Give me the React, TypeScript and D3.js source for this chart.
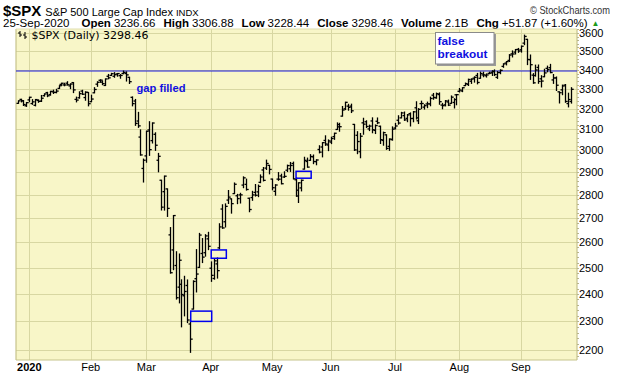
import React from "react";
import * as d3 from "d3";

type Row = [number, number, number, number, number]; // day, open, high, low, close

const dec2019: Row[] = [
  [26, 3227.2, 3240.08, 3227.2, 3239.91],
  [27, 3247.23, 3247.93, 3234.37, 3240.02],
  [30, 3240.09, 3240.92, 3216.57, 3221.29],
  [31, 3215.18, 3231.72, 3212.03, 3230.78],
];
const jan2020: Row[] = [
  [2, 3244.67, 3258.14, 3235.53, 3257.85],
  [3, 3226.36, 3246.15, 3222.34, 3234.85],
  [6, 3217.55, 3246.84, 3214.64, 3246.28],
  [7, 3241.86, 3244.91, 3232.43, 3237.18],
  [8, 3238.59, 3267.07, 3236.67, 3253.05],
  [9, 3266.03, 3275.58, 3263.67, 3274.7],
  [10, 3281.81, 3282.99, 3260.86, 3265.35],
  [13, 3271.13, 3288.13, 3268.43, 3288.13],
  [14, 3285.35, 3294.25, 3277.19, 3283.15],
  [15, 3282.27, 3298.66, 3280.69, 3289.29],
  [16, 3302.97, 3317.11, 3302.82, 3316.81],
  [17, 3323.66, 3329.88, 3318.86, 3329.62],
  [21, 3321.03, 3329.79, 3316.61, 3320.79],
  [22, 3330.02, 3337.77, 3320.04, 3321.75],
  [23, 3315.77, 3326.88, 3301.87, 3325.54],
  [24, 3333.1, 3333.18, 3281.53, 3295.47],
  [27, 3247.16, 3258.85, 3234.5, 3243.63],
  [28, 3255.35, 3285.78, 3253.22, 3276.24],
  [29, 3289.46, 3293.47, 3271.89, 3273.4],
  [30, 3256.45, 3285.91, 3242.8, 3283.66],
  [31, 3282.33, 3282.33, 3214.68, 3225.52],
];
const feb2020: Row[] = [
  [3, 3235.66, 3268.44, 3235.66, 3248.92],
  [4, 3280.61, 3306.92, 3280.61, 3297.59],
  [5, 3324.91, 3337.58, 3313.75, 3334.69],
  [6, 3344.92, 3347.96, 3334.39, 3345.78],
  [7, 3335.54, 3341.42, 3322.12, 3327.71],
  [10, 3318.28, 3352.26, 3317.77, 3352.09],
  [11, 3365.87, 3375.63, 3352.72, 3357.75],
  [12, 3370.5, 3381.47, 3369.72, 3379.45],
  [13, 3365.9, 3385.09, 3360.52, 3373.94],
  [14, 3378.08, 3380.69, 3366.15, 3380.16],
  [18, 3369.04, 3375.01, 3355.61, 3370.29],
  [19, 3380.39, 3393.52, 3378.83, 3386.15],
  [20, 3380.45, 3389.15, 3341.02, 3373.23],
  [21, 3360.5, 3360.76, 3328.45, 3337.75],
  [24, 3257.61, 3259.81, 3214.65, 3225.89],
  [25, 3238.94, 3246.99, 3118.77, 3128.21],
  [26, 3139.9, 3182.51, 3108.99, 3116.39],
  [27, 3062.54, 3097.07, 2977.39, 2978.76],
  [28, 2916.9, 2959.72, 2855.84, 2954.22],
];
const mar2020: Row[] = [
  [2, 2974.28, 3090.96, 2945.19, 3090.23],
  [3, 3096.46, 3136.72, 2976.63, 3003.37],
  [4, 3045.75, 3130.97, 3034.38, 3130.12],
  [5, 3075.7, 3083.04, 2999.83, 3023.94],
  [6, 2954.2, 2985.93, 2901.54, 2972.37],
  [9, 2863.89, 2863.89, 2734.43, 2746.56],
  [10, 2813.48, 2882.59, 2734.0, 2882.23],
  [11, 2825.6, 2825.6, 2707.22, 2741.38],
  [12, 2630.86, 2660.95, 2478.86, 2480.64],
  [13, 2569.99, 2711.33, 2492.37, 2711.02],
  [16, 2508.59, 2562.98, 2380.94, 2386.13],
  [17, 2425.66, 2553.93, 2367.04, 2529.19],
  [18, 2436.5, 2453.57, 2280.52, 2398.1],
  [19, 2393.48, 2466.97, 2319.78, 2409.39],
  [20, 2431.94, 2453.01, 2295.56, 2304.92],
  [23, 2290.71, 2300.73, 2191.86, 2237.4],
  [24, 2344.44, 2449.71, 2344.44, 2447.33],
  [25, 2457.77, 2571.42, 2407.53, 2475.56],
  [26, 2501.29, 2637.01, 2500.72, 2630.07],
  [27, 2555.87, 2615.91, 2520.02, 2541.47],
  [30, 2558.98, 2631.8, 2545.28, 2626.65],
  [31, 2614.69, 2641.39, 2571.15, 2584.59],
];
const apr2020: Row[] = [
  [1, 2498.08, 2522.75, 2447.49, 2470.5],
  [2, 2458.54, 2533.22, 2455.79, 2526.9],
  [3, 2514.92, 2538.18, 2459.96, 2488.65],
  [6, 2578.28, 2676.85, 2574.57, 2663.68],
  [7, 2738.65, 2756.89, 2657.67, 2659.41],
  [8, 2685.0, 2760.75, 2663.3, 2749.98],
  [9, 2776.99, 2818.57, 2762.36, 2789.82],
  [13, 2782.46, 2782.46, 2721.17, 2761.63],
  [14, 2805.1, 2851.85, 2805.1, 2846.06],
  [15, 2795.64, 2801.88, 2761.54, 2783.36],
  [16, 2799.34, 2806.51, 2764.32, 2799.55],
  [17, 2842.43, 2879.22, 2830.88, 2874.56],
  [20, 2845.62, 2868.98, 2820.43, 2823.16],
  [21, 2784.81, 2785.54, 2727.1, 2736.56],
  [22, 2787.89, 2815.1, 2775.95, 2799.31],
  [23, 2810.42, 2844.9, 2794.26, 2797.8],
  [24, 2812.64, 2842.71, 2791.76, 2836.74],
  [27, 2854.65, 2887.72, 2852.89, 2878.48],
  [28, 2909.96, 2921.15, 2860.71, 2863.39],
  [29, 2918.46, 2954.86, 2912.16, 2939.51],
  [30, 2930.91, 2930.91, 2892.47, 2912.43],
];
const may2020: Row[] = [
  [1, 2869.09, 2869.09, 2821.61, 2830.71],
  [4, 2815.01, 2844.24, 2797.85, 2842.74],
  [5, 2868.88, 2898.23, 2863.55, 2868.44],
  [6, 2883.14, 2891.11, 2847.65, 2848.42],
  [7, 2878.26, 2901.92, 2876.48, 2881.19],
  [8, 2908.83, 2932.16, 2902.88, 2929.8],
  [11, 2915.46, 2944.25, 2903.44, 2930.32],
  [12, 2939.5, 2945.82, 2869.59, 2870.12],
  [13, 2865.86, 2874.14, 2793.15, 2820.0],
  [14, 2794.54, 2852.8, 2766.64, 2852.5],
  [15, 2829.95, 2865.01, 2816.78, 2863.7],
  [18, 2913.86, 2968.09, 2913.86, 2953.91],
  [19, 2948.59, 2964.21, 2922.35, 2922.94],
  [20, 2953.63, 2980.29, 2953.63, 2971.61],
  [21, 2969.95, 2978.5, 2938.57, 2948.51],
  [22, 2948.05, 2956.76, 2933.59, 2955.45],
  [26, 3004.08, 3021.72, 2988.17, 2991.77],
  [27, 3015.65, 3036.25, 2969.75, 3036.13],
  [28, 3046.61, 3068.67, 3023.4, 3029.73],
  [29, 3025.17, 3049.17, 2998.61, 3044.31],
];
const jun2020: Row[] = [
  [1, 3038.78, 3062.18, 3031.54, 3055.73],
  [2, 3064.78, 3081.07, 3051.64, 3080.82],
  [3, 3098.9, 3130.94, 3098.9, 3122.87],
  [4, 3111.56, 3128.91, 3090.41, 3112.35],
  [5, 3163.84, 3211.72, 3163.84, 3193.93],
  [8, 3199.92, 3233.13, 3196.0, 3232.39],
  [9, 3213.32, 3222.71, 3193.11, 3207.18],
  [10, 3213.42, 3223.27, 3181.49, 3190.14],
  [11, 3123.53, 3123.53, 2999.49, 3002.1],
  [12, 3071.04, 3088.42, 2984.47, 3041.31],
  [15, 2993.76, 3079.76, 2965.66, 3066.59],
  [16, 3131.0, 3153.45, 3076.06, 3124.74],
  [17, 3136.13, 3141.16, 3108.03, 3113.49],
  [18, 3101.64, 3120.0, 3093.51, 3115.34],
  [19, 3140.29, 3155.53, 3083.11, 3097.74],
  [22, 3094.42, 3120.92, 3079.39, 3117.86],
  [23, 3138.7, 3154.9, 3127.12, 3131.29],
  [24, 3114.4, 3115.01, 3032.13, 3050.33],
  [25, 3046.6, 3086.25, 3024.01, 3083.76],
  [26, 3073.2, 3073.73, 3004.63, 3009.05],
  [29, 3018.59, 3053.89, 2999.74, 3053.24],
  [30, 3050.2, 3111.51, 3047.83, 3100.29],
];
const jul2020: Row[] = [
  [1, 3105.92, 3128.44, 3101.17, 3115.86],
  [2, 3143.64, 3165.81, 3124.52, 3130.01],
  [6, 3155.29, 3182.59, 3155.29, 3179.72],
  [7, 3166.44, 3184.15, 3142.93, 3145.32],
  [8, 3153.07, 3171.8, 3136.53, 3169.94],
  [9, 3176.17, 3179.78, 3115.7, 3152.05],
  [10, 3152.47, 3186.82, 3136.22, 3185.04],
  [13, 3205.08, 3235.32, 3149.43, 3155.22],
  [14, 3141.11, 3200.95, 3127.66, 3197.52],
  [15, 3225.98, 3238.28, 3200.76, 3226.56],
  [16, 3208.36, 3220.39, 3198.59, 3215.57],
  [17, 3224.21, 3233.52, 3205.65, 3224.73],
  [20, 3224.29, 3258.61, 3215.16, 3251.84],
  [21, 3268.52, 3277.29, 3247.77, 3257.3],
  [22, 3254.86, 3279.32, 3253.1, 3276.02],
  [23, 3271.64, 3279.99, 3222.66, 3235.66],
  [24, 3218.58, 3227.26, 3200.05, 3215.63],
  [27, 3219.84, 3241.43, 3214.25, 3239.41],
  [28, 3234.27, 3243.72, 3216.17, 3218.44],
  [29, 3227.22, 3264.74, 3227.22, 3258.44],
  [30, 3231.76, 3250.92, 3204.13, 3246.22],
  [31, 3270.45, 3272.17, 3220.26, 3271.12],
];
const aug2020: Row[] = [
  [3, 3288.26, 3302.73, 3284.53, 3294.61],
  [4, 3289.92, 3306.84, 3286.37, 3306.51],
  [5, 3317.37, 3330.77, 3317.37, 3327.77],
  [6, 3323.17, 3351.03, 3318.14, 3349.16],
  [7, 3340.05, 3352.54, 3328.72, 3351.28],
  [10, 3356.04, 3363.29, 3335.44, 3360.47],
  [11, 3370.34, 3381.01, 3326.44, 3333.69],
  [12, 3355.46, 3387.89, 3355.46, 3380.35],
  [13, 3372.95, 3387.24, 3363.35, 3373.43],
  [14, 3368.66, 3378.51, 3361.64, 3372.85],
  [17, 3380.86, 3387.59, 3379.22, 3381.99],
  [18, 3387.04, 3395.06, 3370.15, 3389.78],
  [19, 3392.51, 3399.54, 3369.66, 3374.85],
  [20, 3360.48, 3390.8, 3354.69, 3385.51],
  [21, 3386.01, 3399.96, 3379.31, 3397.16],
  [24, 3418.09, 3432.09, 3413.13, 3431.28],
  [25, 3435.95, 3444.21, 3425.84, 3443.62],
  [26, 3449.97, 3481.07, 3444.15, 3478.73],
  [27, 3485.14, 3501.38, 3468.35, 3484.55],
  [28, 3494.69, 3509.23, 3484.32, 3508.01],
  [31, 3509.73, 3514.77, 3493.25, 3500.31],
];
const sep2020: Row[] = [
  [1, 3507.44, 3528.03, 3494.6, 3526.65],
  [2, 3543.76, 3588.11, 3535.23, 3580.84],
  [3, 3564.74, 3564.85, 3427.41, 3455.06],
  [4, 3453.6, 3479.15, 3349.63, 3426.96],
  [8, 3371.88, 3379.97, 3329.27, 3331.84],
  [9, 3369.82, 3424.77, 3366.84, 3398.96],
  [10, 3412.56, 3425.55, 3329.25, 3339.19],
  [11, 3352.7, 3368.95, 3310.47, 3340.97],
  [14, 3363.56, 3402.93, 3363.56, 3383.54],
  [15, 3407.73, 3419.48, 3389.25, 3401.2],
  [16, 3411.23, 3428.92, 3384.45, 3385.49],
  [17, 3346.86, 3375.17, 3328.82, 3357.01],
  [18, 3357.38, 3362.27, 3292.4, 3319.47],
  [21, 3285.57, 3285.57, 3229.1, 3281.06],
  [22, 3295.75, 3320.31, 3270.95, 3315.57],
  [23, 3320.11, 3323.35, 3232.57, 3236.92],
  [24, 3226.14, 3278.7, 3209.45, 3246.59],
  [25, 3236.66, 3306.88, 3228.44, 3298.46],
];

const monthGroups: { year: number; month: number; rows: Row[] }[] = [
  { year: 2019, month: 12, rows: dec2019 },
  { year: 2020, month: 1, rows: jan2020 },
  { year: 2020, month: 2, rows: feb2020 },
  { year: 2020, month: 3, rows: mar2020 },
  { year: 2020, month: 4, rows: apr2020 },
  { year: 2020, month: 5, rows: may2020 },
  { year: 2020, month: 6, rows: jun2020 },
  { year: 2020, month: 7, rows: jul2020 },
  { year: 2020, month: 8, rows: aug2020 },
  { year: 2020, month: 9, rows: sep2020 },
];

const monthTickLabels = ["2020", "Feb", "Mar", "Apr", "May", "Jun", "Jul", "Aug", "Sep"];
const yTickValues = [2200, 2300, 2400, 2500, 2600, 2700, 2800, 2900, 3000, 3100, 3200, 3300, 3400, 3500, 3600];

// header quote values
const quoteDate = "25-Sep-2020";
const quoteFields: [string, string][] = [
  ["Open", "3236.66"],
  ["High", "3306.88"],
  ["Low", "3228.44"],
  ["Close", "3298.46"],
  ["Volume", "2.1B"],
  ["Chg", "+51.87 (+1.60%)"],
];

// horizontal resistance line (Feb high)
const resistanceLevel = 3393.52;
// gap boxes: [start date, end date, low price, high price]
const gapBoxes: [string, string, number, number][] = [
  ["2020-03-23", "2020-04-01", 2300, 2337],
  ["2020-04-01", "2020-04-08", 2537, 2570],
  ["2020-05-13", "2020-05-20", 2873, 2904],
];

const W = 620;
const H = 376;
const L = 16;
const R = 577;
const T = 29;
const B = 360;

type Bar = { date: string; month: number; o: number; h: number; l: number; c: number };

const bars: Bar[] = [];
monthGroups.forEach((g) =>
  g.rows.forEach((r) => {
    const date = `${g.year}-${String(g.month).padStart(2, "0")}-${String(r[0]).padStart(2, "0")}`;
    bars.push({ date, month: g.month, o: r[1], h: r[2], l: r[3], c: r[4] });
  })
);

const idxOf = (d: string) => bars.findIndex((b) => b.date === d);

export default function App() {
  const x = d3.scaleLinear().domain([-0.55, bars.length + 1.2]).range([L, R]);
  const y = d3.scaleLog().domain([2200, 3600]).range([350, 33]);

  const monthStarts: number[] = [];
  bars.forEach((b, i) => {
    if (i > 0 && b.month !== bars[i - 1].month) monthStarts.push(i);
  });

  const minorTicks = d3.range(2180, 3640, 20).filter((v) => y(v) > T && y(v) < B);
  const font = "'Liberation Sans', Arial, sans-serif";
  const grid = "#d8d7a2";

  return (
    <div style={{ position: "fixed", left: 0, top: 0 }}>
      <svg width={W} height={H} style={{ display: "block", background: "#fff" }}>
        {/* header line 1 */}
        <g fontFamily={font} fill="#000">
          <text x={3} y={15.5}>
            <tspan fontSize={15} fontWeight="bold">$SPX</tspan>
            <tspan fontSize={11} dx={4}>S&amp;P 500 Large Cap Index</tspan>
            <tspan fontSize={9.5} dx={3}>INDX</tspan>
          </text>
          <text x={530} y={14} fontSize={10.5} fill="#333" textLength={80} lengthAdjust="spacingAndGlyphs">© StockCharts.com</text>

          {/* header line 2 */}
          <text x={3} y={27} fontSize={11.5}>
            <tspan>{quoteDate}</tspan>
            {quoteFields.map(([k, v], i) => (
              <React.Fragment key={k}>
                <tspan dx={i === 0 ? 12 : 8} fontWeight="bold">{k}</tspan>
                <tspan dx={3}>{v}</tspan>
              </React.Fragment>
            ))}
            <tspan dx={4} dy={-1} fill="#1a9a1a" fontSize={8}>▲</tspan>
          </text>
        </g>

        {/* plot background */}
        <rect x={L} y={T} width={R - L} height={B - T} fill="#f8f6c8" />

        {/* grid */}
        <g stroke={grid} strokeWidth={1}>
          {yTickValues.map((v) => (
            <line key={v} x1={L} x2={R} y1={Math.round(y(v)) + 0.5} y2={Math.round(y(v)) + 0.5} />
          ))}
          {monthStarts.map((i) => (
            <line key={i} x1={Math.round(x(i)) + 0.5} x2={Math.round(x(i)) + 0.5} y1={T} y2={B} />
          ))}
        </g>

        {/* border */}
        <g stroke="#c6c38c" strokeWidth={1.2} fill="none">
          <line x1={L} x2={L} y1={T} y2={B} />
          <line x1={L} x2={R} y1={B} y2={B} />
          <line x1={R} x2={R} y1={T} y2={B} />
          <line x1={L} x2={R} y1={T} y2={T} stroke="#e0ddb0" />
        </g>

        {/* minor ticks on right axis */}
        <g stroke="#b8b58a" strokeWidth={1}>
          {minorTicks.map((v) => (
            <line key={v} x1={R} x2={R + 2} y1={Math.round(y(v)) + 0.5} y2={Math.round(y(v)) + 0.5} />
          ))}
        </g>

        {/* y labels */}
        <g fontFamily={font} fontSize={11} fill="#000">
          {yTickValues.map((v) => (
            <text key={v} x={R + 2} y={y(v) + 4}>{v}</text>
          ))}
        </g>

        {/* x labels */}
        <g fontFamily={font} fontSize={11} fill="#000" textAnchor="middle">
          {monthStarts.map((i, k) => (
            <text key={i} x={x(i)} y={371} fontWeight={k === 0 ? "bold" : "normal"}>
              {monthTickLabels[k]}
            </text>
          ))}
        </g>

        <defs>
          <clipPath id="plotclip">
            <rect x={L} y={T} width={R - L} height={B - T} />
          </clipPath>
        </defs>

        {/* resistance line */}
        <line x1={L} x2={R} y1={y(resistanceLevel)} y2={y(resistanceLevel)} stroke="#1a1ae0" strokeWidth={1.2} />

        {/* OHLC bars */}
        <g stroke="#000" strokeWidth={1.3} clipPath="url(#plotclip)">
          {bars.map((b, i) => {
            const cx = Math.round(x(i)) + 0.5;
            return (
              <g key={b.date}>
                <line x1={cx} x2={cx} y1={y(b.h) - 0.5} y2={y(b.l) + 0.5} />
                <line x1={cx - 2} x2={cx} y1={y(b.o)} y2={y(b.o)} />
                <line x1={cx} x2={cx + 2.2} y1={y(b.c)} y2={y(b.c)} />
              </g>
            );
          })}
        </g>

        {/* gap boxes */}
        <g stroke="#0000ee" strokeWidth={1.5} fill="none">
          {gapBoxes.map(([d0, d1, lo, hi]) => {
            const x0 = x(idxOf(d0)) + 0.5;
            const x1 = x(idxOf(d1)) + 1;
            return <rect key={d0} x={x0} y={y(hi)} width={x1 - x0} height={y(lo) - y(hi)} />;
          })}
        </g>

        {/* legend inside plot */}
        <g stroke="#000" strokeWidth={1}>
          <line x1={20} x2={20} y1={31} y2={37} />
          <line x1={18} x2={20} y1={33} y2={33} />
          <line x1={20} x2={22} y1={35} y2={35} />
          <line x1={25} x2={25} y1={32} y2={39} />
          <line x1={23} x2={25} y1={35} y2={35} />
          <line x1={25} x2={27} y1={37} y2={37} />
        </g>
        <text x={31.5} y={38.5} fontFamily="'DejaVu Sans', Verdana, sans-serif" fontSize={10} fill="#000" textLength={117} lengthAdjust="spacingAndGlyphs">
          $SPX (Daily) 3298.46
        </text>

        {/* annotations */}
        <text x={136.5} y={91.5} fontFamily={font} fontSize={11.5} fontWeight="bold" fill="#1010e0" textLength={49} lengthAdjust="spacingAndGlyphs">
          gap filled
        </text>
        <rect x={437} y={34} width={59} height={32} fill="#9a9a9a" />
        <rect x={435.5} y={32.5} width={58.5} height={31.5} fill="#fff" stroke="#8a8a8a" strokeWidth={1} />
        <g fontFamily={font} fontSize={11.5} fontWeight="bold" fill="#1010e0">
          <text x={437.5} y={45} textLength={27} lengthAdjust="spacingAndGlyphs">false</text>
          <text x={437.5} y={58} textLength={50} lengthAdjust="spacingAndGlyphs">breakout</text>
        </g>
      </svg>
    </div>
  );
}
